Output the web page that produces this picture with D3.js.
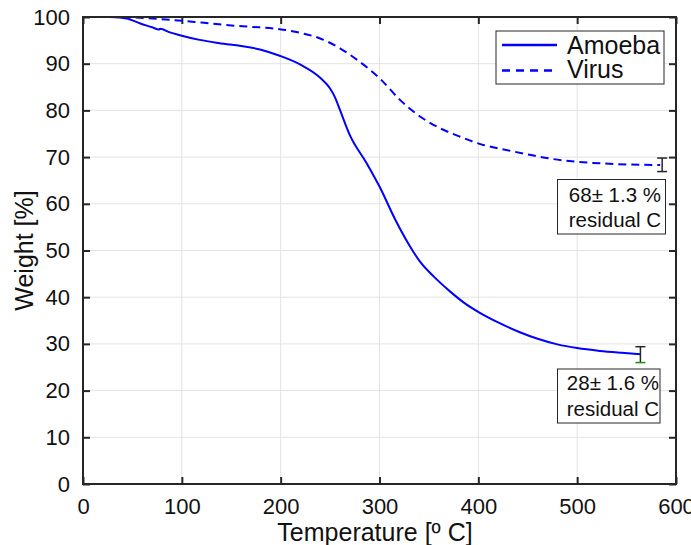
<!DOCTYPE html>
<html><head><meta charset="utf-8">
<script src="https://cdn.jsdelivr.net/npm/d3@7"></script>
<style>body{margin:0;background:#fff}svg{display:block;font-family:"Liberation Sans",Arial,sans-serif}</style>
</head><body>
<svg id="c" width="691" height="545"></svg>
<script>
const amoebaT = [27,44,58,70,77,78,88,98,118,135,149,160,180,199,220,240,250,255,260,270,287,300,316,330,341,355,371,385,402,420,442,460,480,500,523,545,564];
const amoebaW = [100,99.7,98.6,97.8,97.3,97.5,96.7,96.1,95.1,94.5,94.1,93.8,93.0,91.7,89.8,87.0,84.7,82.8,80.1,74.7,68.7,63.7,56.6,51.2,47.6,44.4,41.3,38.9,36.6,34.6,32.5,31.1,29.9,29.1,28.5,28.1,27.8];
const virusT = [27,50,75,100,120,150,170,199,220,240,260,280,300,321,341,361,380,405,422,452,475,500,540,584];
const virusW = [100,99.9,99.6,99.2,98.8,98.2,97.9,97.4,96.6,95.4,93.3,90.4,86.9,82.2,78.7,76.2,74.5,72.6,71.8,70.5,69.6,69.0,68.5,68.3];
const xTicks = [0,100,200,300,400,500,600];
const yTicks = [0,10,20,30,40,50,60,70,80,90,100];
const seriesNames = ["Amoeba","Virus"];
const errT = [564,586];
const errMean = [27.8,68.3];
const errLo = [26.0,66.9];
const errHi = [29.4,69.8];
const annot1 = ["28\u00b1 1.6 %","residual C"];
const annot2 = ["68\u00b1 1.3 %","residual C"];

const W=691,H=545,m={l:83,t:17,r:15,b:61};
const svg=d3.select("#c");
const x=d3.scaleLinear().domain([0,600]).range([m.l,W-m.r]);
const y=d3.scaleLinear().domain([0,100]).range([H-m.b,m.t]);
const ink="#262626";

// grid
const g=svg.append("g");
g.selectAll(".gx").data(xTicks).join("line").attr("x1",d=>x(d)).attr("x2",d=>x(d)).attr("y1",y(0)).attr("y2",y(100)).attr("stroke","#e3e3e3").attr("stroke-width",1);
g.selectAll(".gy").data(yTicks).join("line").attr("y1",d=>y(d)).attr("y2",d=>y(d)).attr("x1",x(0)).attr("x2",x(600)).attr("stroke","#e3e3e3").attr("stroke-width",1);

// axes
const fs=22;
const ax=d3.axisBottom(x).tickValues(xTicks).tickSize(-7).tickPadding(14).tickFormat(d3.format("d"));
const axT=d3.axisTop(x).tickValues(xTicks).tickSize(-7).tickFormat("");
const ay=d3.axisLeft(y).tickValues(yTicks).tickSize(-7).tickPadding(13).tickFormat(d3.format("d"));
const ayR=d3.axisRight(y).tickValues(yTicks).tickSize(-7).tickFormat("");
function style(sel){sel.select(".domain").remove();sel.selectAll("line").attr("stroke",ink).attr("stroke-width",2);sel.selectAll("text").attr("fill","#111").style("font-size",fs+"px").attr("font-family","Liberation Sans, Arial, sans-serif");}
svg.append("g").attr("transform",`translate(0,${y(0)})`).call(ax).call(style);
svg.append("g").attr("transform",`translate(0,${y(100)})`).call(axT).call(style);
svg.append("g").attr("transform",`translate(${x(0)},0)`).call(ay).call(style);
svg.append("g").attr("transform",`translate(${x(600)},0)`).call(ayR).call(style);

// lines
const line=d3.line().x(d=>x(d[0])).y(d=>y(d[1])).curve(d3.curveMonotoneX);
const am=amoebaT.map((t,i)=>[t,amoebaW[i]]);
const vi=virusT.map((t,i)=>[t,virusW[i]]);
svg.append("path").attr("d",line(am)).attr("fill","none").attr("stroke","#0000ff").attr("stroke-width",2);
svg.append("path").attr("d",line(vi)).attr("fill","none").attr("stroke","#0000ff").attr("stroke-width",2).attr("stroke-dasharray","8,5");

// error bars
errT.forEach((t,i)=>{
  const cx=x(t);
  svg.append("line").attr("x1",cx).attr("x2",cx).attr("y1",y(errLo[i])).attr("y2",y(errHi[i])).attr("stroke",ink).attr("stroke-width",1.5);
  svg.append("line").attr("x1",cx-5).attr("x2",cx+5).attr("y1",y(errHi[i])).attr("y2",y(errHi[i])).attr("stroke",ink).attr("stroke-width",1.5);
  svg.append("line").attr("x1",cx-5).attr("x2",cx+5).attr("y1",y(errLo[i])).attr("y2",y(errLo[i])).attr("stroke",i===0?"#1a8a1a":ink).attr("stroke-width",1.5);
});

// frame
svg.append("rect").attr("x",x(0)).attr("y",y(100)).attr("width",x(600)-x(0)).attr("height",y(0)-y(100)).attr("fill","none").attr("stroke",ink).attr("stroke-width",2);

// annotation boxes
function box(x0,y0,w,h,lines,right,b1,b2){
  svg.append("rect").attr("x",x0).attr("y",y0).attr("width",w).attr("height",h).attr("fill","#fff").attr("stroke",ink).attr("stroke-width",1);
  [b1,b2].forEach((b,i)=>svg.append("text").attr("x",right).attr("y",b).attr("text-anchor","end").style("font-size","20.5px").attr("fill","#111").text(lines[i]));
}
box(557.5,369,102.5,54,annot1,659,389.5,416);
box(557.5,179.5,108,54.5,annot2,661,201.5,226.5);

// legend
svg.append("rect").attr("x",496).attr("y",31).attr("width",168).attr("height",53).attr("fill","#fff").attr("stroke",ink).attr("stroke-width",1);
svg.append("line").attr("x1",502).attr("x2",557).attr("y1",45).attr("y2",45).attr("stroke","#0000ff").attr("stroke-width",2.5);
svg.append("line").attr("x1",502).attr("x2",557).attr("y1",70.5).attr("y2",70.5).attr("stroke","#0000ff").attr("stroke-width",2.5).attr("stroke-dasharray","8,6");
seriesNames.forEach((n,i)=>svg.append("text").attr("x",567).attr("y",[53.5,77.5][i]).style("font-size","25px").attr("fill","#111").text(n));

// axis titles
svg.append("text").attr("x",375).attr("y",541).attr("text-anchor","middle").style("font-size","25px").attr("fill","#111").text("Temperature [\u00ba C]");
svg.append("text").attr("transform",`translate(33,${(y(0)+y(100))/2}) rotate(-90)`).attr("text-anchor","middle").style("font-size","25px").attr("fill","#111").text("Weight [%]");
</script>
</body></html>
